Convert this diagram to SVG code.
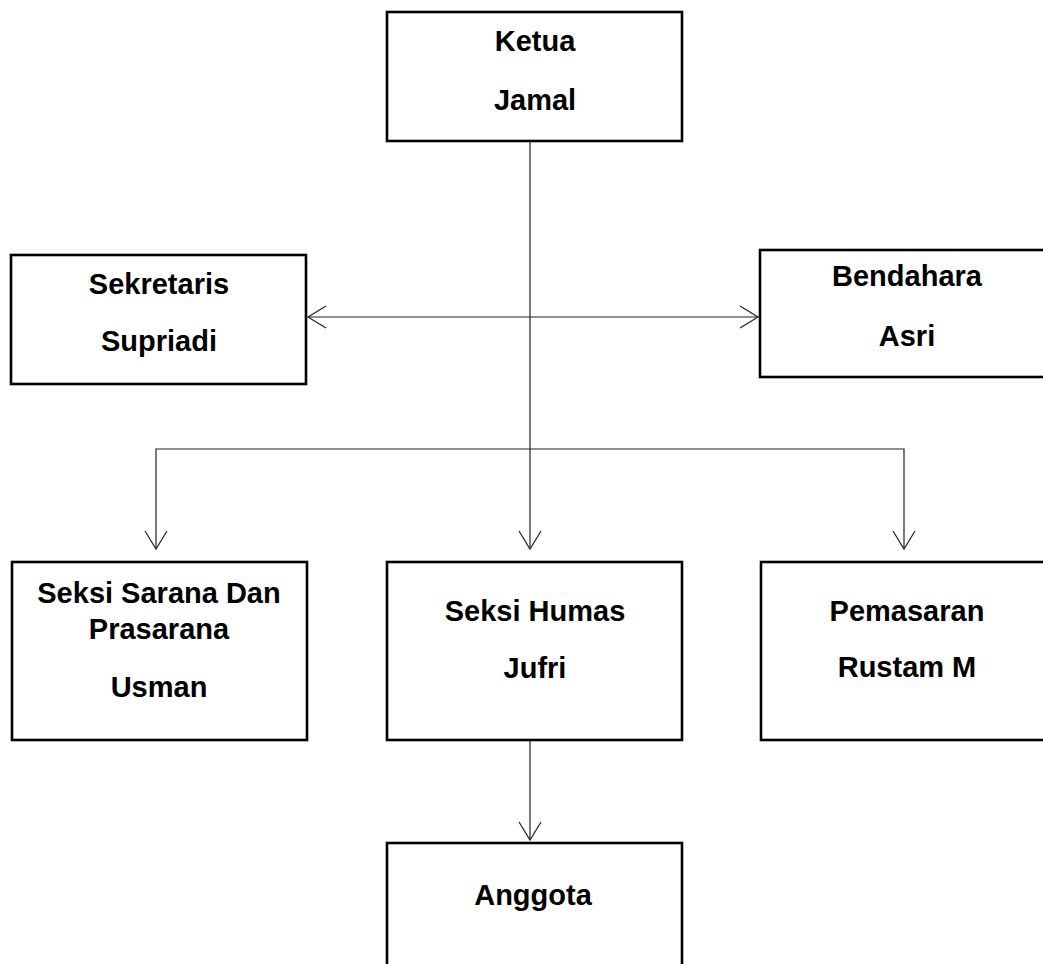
<svg xmlns="http://www.w3.org/2000/svg" width="1043" height="964" viewBox="0 0 1043 964">
<style>
.box{fill:#fff;stroke:#000;stroke-width:2.6}
.t{font-family:"Liberation Sans",Arial,sans-serif;font-weight:bold;font-size:29px;fill:#000;text-anchor:middle}
.c{fill:none;stroke:#222;stroke-width:1.2}
</style>
<defs>
<marker id="v" markerUnits="userSpaceOnUse" markerWidth="24" markerHeight="26" viewBox="-20 -13 22 26" refX="0" refY="0" orient="auto-start-reverse">
<path d="M-18,-11 L0,0 L-18,11" fill="none" stroke="#222" stroke-width="1.2"/>
</marker>
</defs>
<rect width="1043" height="964" fill="#fff"/>
<g id="connectors">
<line class="c" x1="530" y1="141" x2="530" y2="549" marker-end="url(#v)"/>
<line class="c" x1="308" y1="317" x2="758" y2="317" marker-start="url(#v)" marker-end="url(#v)"/>
<polyline class="c" points="156,549 156,449 904,449 904,549" marker-start="url(#v)" marker-end="url(#v)"/>
<line class="c" x1="530" y1="740" x2="530" y2="840" marker-end="url(#v)"/>
</g>
<g id="ketua">
<rect class="box" x="387" y="12" width="295" height="129"/>
<text class="t" x="535" y="51">Ketua</text>
<text class="t" x="535" y="110">Jamal</text>
</g>
<g id="sekretaris">
<rect class="box" x="11" y="255" width="295" height="129"/>
<text class="t" x="159" y="294">Sekretaris</text>
<text class="t" x="159" y="351">Supriadi</text>
</g>
<g id="bendahara">
<rect class="box" x="760" y="250" width="293" height="127"/>
<text class="t" x="907" y="286">Bendahara</text>
<text class="t" x="907" y="346">Asri</text>
</g>
<g id="sarana">
<rect class="box" x="12" y="562" width="295" height="178"/>
<text class="t" x="159" y="603">Seksi Sarana Dan</text>
<text class="t" x="159" y="639">Prasarana</text>
<text class="t" x="159" y="697">Usman</text>
</g>
<g id="humas">
<rect class="box" x="387" y="562" width="295" height="178"/>
<text class="t" x="535" y="621">Seksi Humas</text>
<text class="t" x="535" y="678">Jufri</text>
</g>
<g id="pemasaran">
<rect class="box" x="761" y="562" width="293" height="178"/>
<text class="t" x="907" y="621">Pemasaran</text>
<text class="t" x="907" y="677">Rustam M</text>
</g>
<g id="anggota">
<rect class="box" x="387" y="843" width="295" height="140"/>
<text class="t" x="533" y="905">Anggota</text>
</g>
</svg>
